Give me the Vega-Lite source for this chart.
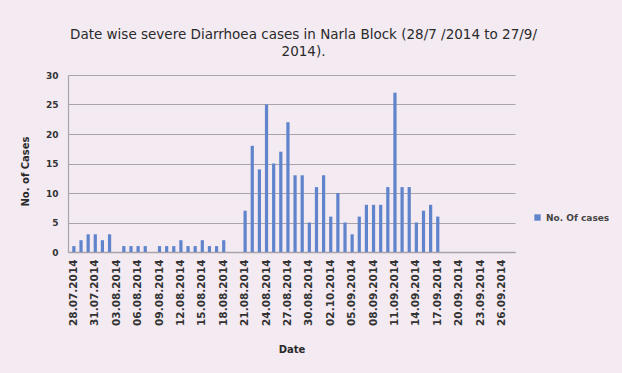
{
  "$schema": "https://vega.github.io/schema/vega-lite/v6.json",
  "width": 447,
  "height": 177,
  "autosize": {"type": "none"},
  "padding": {"left": 68, "top": 75, "right": 107, "bottom": 121},
  "background": "#f4eaf2",
  "title": {
    "text": ["Date wise severe Diarrhoea cases in Narla Block (28/7 /2014 to 27/9/", "2014)."],
    "font": "DejaVu Sans",
    "fontSize": 13.5,
    "fontWeight": "normal",
    "color": "#2a2a2a",
    "anchor": "middle",
    "frame": "group",
    "dx": 12,
    "lineHeight": 17,
    "offset": 13
  },
  "data": {
    "values": [
      {"date": "28.07.2014", "cases": 1},
      {"date": "29.07.2014", "cases": 2},
      {"date": "30.07.2014", "cases": 3},
      {"date": "31.07.2014", "cases": 3},
      {"date": "01.08.2014", "cases": 2},
      {"date": "02.08.2014", "cases": 3},
      {"date": "03.08.2014", "cases": 0},
      {"date": "04.08.2014", "cases": 1},
      {"date": "05.08.2014", "cases": 1},
      {"date": "06.08.2014", "cases": 1},
      {"date": "07.08.2014", "cases": 1},
      {"date": "08.08.2014", "cases": 0},
      {"date": "09.08.2014", "cases": 1},
      {"date": "10.08.2014", "cases": 1},
      {"date": "11.08.2014", "cases": 1},
      {"date": "12.08.2014", "cases": 2},
      {"date": "13.08.2014", "cases": 1},
      {"date": "14.08.2014", "cases": 1},
      {"date": "15.08.2014", "cases": 2},
      {"date": "16.08.2014", "cases": 1},
      {"date": "17.08.2014", "cases": 1},
      {"date": "18.08.2014", "cases": 2},
      {"date": "19.08.2014", "cases": 0},
      {"date": "20.08.2014", "cases": 0},
      {"date": "21.08.2014", "cases": 7},
      {"date": "22.08.2014", "cases": 18},
      {"date": "23.08.2014", "cases": 14},
      {"date": "24.08.2014", "cases": 25},
      {"date": "25.08.2014", "cases": 15},
      {"date": "26.08.2014", "cases": 17},
      {"date": "27.08.2014", "cases": 22},
      {"date": "28.08.2014", "cases": 13},
      {"date": "29.08.2014", "cases": 13},
      {"date": "30.08.2014", "cases": 5},
      {"date": "31.08.2014", "cases": 11},
      {"date": "01.09.2014", "cases": 13},
      {"date": "02.10.2014", "cases": 6},
      {"date": "03.09.2014", "cases": 10},
      {"date": "04.09.2014", "cases": 5},
      {"date": "05.09.2014", "cases": 3},
      {"date": "06.09.2014", "cases": 6},
      {"date": "07.09.2014", "cases": 8},
      {"date": "08.09.2014", "cases": 8},
      {"date": "09.09.2014", "cases": 8},
      {"date": "10.09.2014", "cases": 11},
      {"date": "11.09.2014", "cases": 27},
      {"date": "12.09.2014", "cases": 11},
      {"date": "13.09.2014", "cases": 11},
      {"date": "14.09.2014", "cases": 5},
      {"date": "15.09.2014", "cases": 7},
      {"date": "16.09.2014", "cases": 8},
      {"date": "17.09.2014", "cases": 6},
      {"date": "18.09.2014", "cases": 0},
      {"date": "19.09.2014", "cases": 0},
      {"date": "20.09.2014", "cases": 0},
      {"date": "21.09.2014", "cases": 0},
      {"date": "22.09.2014", "cases": 0},
      {"date": "23.09.2014", "cases": 0},
      {"date": "24.09.2014", "cases": 0},
      {"date": "25.09.2014", "cases": 0},
      {"date": "26.09.2014", "cases": 0},
      {"date": "27.09.2014", "cases": 0}
    ]
  },
  "mark": {"type": "bar"},
  "encoding": {
    "x": {
      "field": "date",
      "type": "ordinal",
      "sort": null,
      "scale": {"paddingInner": 0.55, "paddingOuter": 0.6},
      "axis": {
        "title": "Date",
        "values": ["28.07.2014", "31.07.2014", "03.08.2014", "06.08.2014", "09.08.2014", "12.08.2014", "15.08.2014", "18.08.2014", "21.08.2014", "24.08.2014", "27.08.2014", "30.08.2014", "02.10.2014", "05.09.2014", "08.09.2014", "11.09.2014", "14.09.2014", "17.09.2014", "20.09.2014", "23.09.2014", "26.09.2014"],
        "labelAngle": -90,
        "labelFont": "DejaVu Sans",
        "labelFontSize": 10.5,
        "labelFontWeight": "bold",
        "labelColor": "#333333",
        "labelPadding": 7,
        "ticks": false,
        "domainColor": "#a8a4a8",
        "domainWidth": 1.5,
        "titleFont": "DejaVu Sans",
        "titleFontSize": 10,
        "titleFontWeight": "bold",
        "titleColor": "#2a2a2a",
        "titlePadding": 19
      }
    },
    "y": {
      "field": "cases",
      "type": "quantitative",
      "scale": {"domain": [0, 30]},
      "axis": {
        "title": "No. of Cases",
        "values": [0, 5, 10, 15, 20, 25, 30],
        "labelFont": "DejaVu Sans",
        "labelFontSize": 9,
        "labelFontWeight": "bold",
        "labelColor": "#333333",
        "labelPadding": 10,
        "ticks": false,
        "gridColor": "#a8a4a8",
        "gridWidth": 1.2,
        "domainColor": "#a8a4a8",
        "domainWidth": 1.2,
        "titleFont": "DejaVu Sans",
        "titleFontSize": 10,
        "titleFontWeight": "bold",
        "titleColor": "#2a2a2a",
        "titlePadding": 15,
        "titleY": 96
      }
    },
    "color": {
      "datum": "No. Of cases",
      "scale": {"range": ["#5f84cc"]},
      "legend": {
        "title": null,
        "orient": "none",
        "legendX": 465,
        "legendY": 138,
        "symbolType": "square",
        "symbolSize": 40,
        "labelFont": "DejaVu Sans",
        "labelFontSize": 9,
        "labelFontWeight": "bold",
        "labelColor": "#444444"
      }
    }
  },
  "config": {"view": {"stroke": null}}
}
